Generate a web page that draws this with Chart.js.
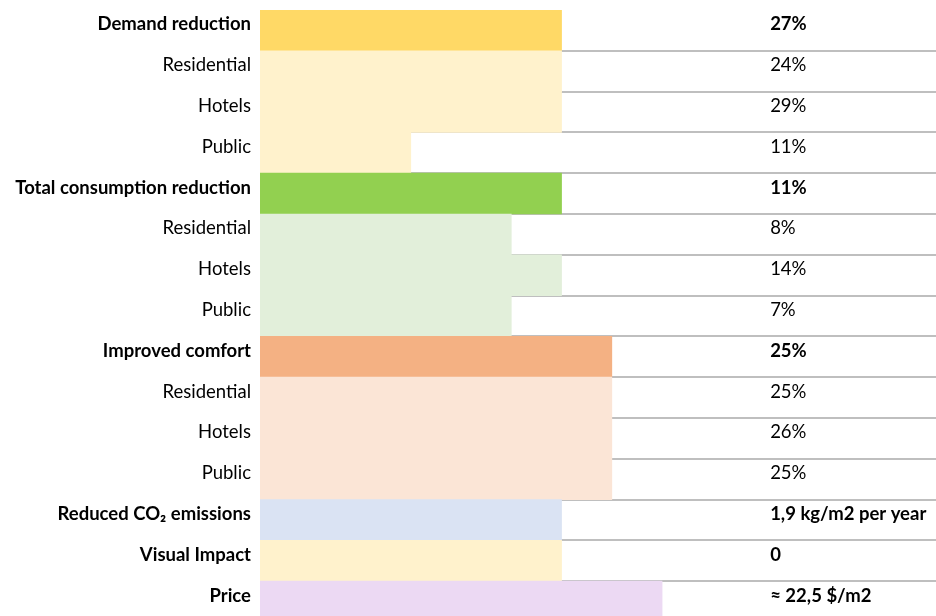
<!DOCTYPE html>
<html>
<head>
<meta charset="utf-8">
<title>Solution assessment</title>
<script src="https://cdn.jsdelivr.net/npm/chart.js@4.4.1/dist/chart.umd.min.js"></script>
<style>
  html, body { margin: 0; padding: 0; background: #ffffff; overflow: hidden; }
  #wrap { position: relative; width: 936px; height: 622px; }
</style>
</head>
<body>
<div id="wrap"><canvas id="chart"></canvas></div>
<script>
// Criteria, top to bottom
const criteria = [
  'Demand reduction', 'Residential', 'Hotels', 'Public',
  'Total consumption reduction', 'Residential', 'Hotels', 'Public',
  'Improved comfort', 'Residential', 'Hotels', 'Public',
  'Reduced CO\u2082 emissions', 'Visual Impact', 'Price'
];

// Rating score of each criterion (bar length)
const ratingScore = [6, 6, 6, 3, 6, 5, 6, 5, 7, 7, 7, 7, 6, 6, 8];

// Measured result shown in the right-hand column
const resultText = [
  '27%', '24%', '29%', '11%',
  '11%', '8%', '14%', '7%',
  '25%', '25%', '26%', '25%',
  '1,9 kg/m2 per year', '0', '\u2248 22,5 $/m2'
];

// Main criteria are set in bold, sub-rows in regular weight
const isHeading = [true, false, false, false, true, false, false, false,
                   true, false, false, false, true, true, true];

const barColors = [
  '#FFD966', '#FFF2CC', '#FFF2CC', '#FFF2CC',
  '#92D050', '#E2EFDA', '#E2EFDA', '#E2EFDA',
  '#F4B183', '#FBE5D6', '#FBE5D6', '#FBE5D6',
  '#DAE3F3', '#FFF2CC', '#ECD9F3'
];

const SCORE_AXIS_MAX = 13.45;   // leaves room for the result column
const RESULT_COLUMN = 10.15;    // x position (in score units) of the result text
const FONT_FAMILY = 'Lato, Calibri, Carlito, sans-serif';
const FONT_SIZE = 18.5;
const TEXT_LIFT = -6;

const fontFor = (i) => ({
  family: FONT_FAMILY,
  size: FONT_SIZE,
  weight: isHeading[i] ? 'bold' : 'normal'
});

// Writes the result text of every row in a column to the right of the bars
const resultColumn = {
  id: 'resultColumn',
  afterDatasetsDraw(chart) {
    const { ctx, scales: { x, y } } = chart;
    ctx.save();
    ctx.fillStyle = '#000000';
    ctx.textAlign = 'left';
    ctx.textBaseline = 'middle';
    const left = x.getPixelForValue(RESULT_COLUMN);
    resultText.forEach((t, i) => {
      const f = fontFor(i);
      ctx.font = `${f.weight} ${f.size}px ${f.family}`;
      ctx.fillText(t, left, y.getPixelForValue(i) + TEXT_LIFT);
    });
    ctx.restore();
  }
};

new Chart(document.getElementById('chart'), {
  type: 'bar',
  data: {
    labels: criteria,
    datasets: [{
      data: ratingScore,
      backgroundColor: barColors,
      borderWidth: 0,
      barPercentage: 1,
      categoryPercentage: 1
    }]
  },
  options: {
    indexAxis: 'y',
    responsive: true,
    maintainAspectRatio: false,
    animation: false,
    layout: { padding: { top: 10, right: 0, bottom: 0, left: 0 } },
    plugins: {
      legend: { display: false },
      tooltip: { enabled: false },
      title: { display: false }
    },
    scales: {
      x: {
        display: false,
        min: 0,
        max: SCORE_AXIS_MAX
      },
      y: {
        z: 1,
        offset: true,
        afterFit(scale) {
          scale.width = 260;
          scale.paddingTop = 0;
          scale.paddingBottom = 0;
        },
        border: { display: false },
        grid: {
          offset: true,
          drawTicks: false,
          lineWidth: 2,
          color: (c) => (c.index === undefined || c.index === 0) ? 'rgba(0,0,0,0)' : '#BFBFBF'
        },
        ticks: {
          padding: 9,
          labelOffset: TEXT_LIFT,
          color: '#000000',
          font: (c) => fontFor(c.index)
        }
      }
    }
  },
  plugins: [resultColumn]
});
</script>
</body>
</html>
